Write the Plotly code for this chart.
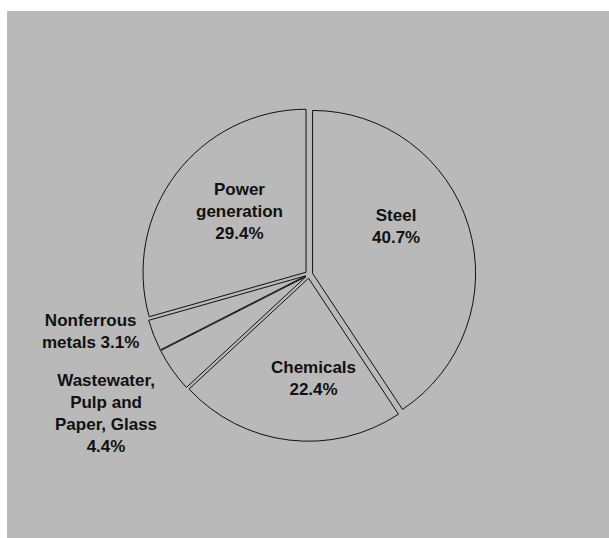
import plotly.graph_objects as go

# Data
categories = ["Steel", "Chemicals", "Wastewater, Pulp and Paper, Glass", "Nonferrous metals", "Power generation"]
shares = [40.7, 22.4, 4.4, 3.1, 29.4]
label_lines = [
    ["Steel"],
    ["Chemicals"],
    ["Wastewater,", "Pulp and", "Paper, Glass"],
    ["Nonferrous", "metals"],
    ["Power", "generation"],
]
# whether percentage goes on its own line
pct_newline = [True, True, True, False, True]

W, H = 609, 538
GRAY = "#B9B9B9"

# label centres in pixels (layout only)
label_pos = [(396, 226), (313, 378), (106, 413), (90, 331), (239, 211)]

fig = go.Figure()
fig.add_trace(go.Pie(
    labels=categories,
    values=shares,
    sort=False,
    direction="clockwise",
    rotation=0,
    pull=[0.023] * len(shares),
    textinfo="none",
    hoverinfo="label+percent",
    marker=dict(colors=[GRAY] * len(shares), line=dict(color="#111111", width=1)),
    domain=dict(x=[0.2336, 0.7812], y=[0.1798, 0.7997]),
    showlegend=False,
))

annotations = []
for lines, val, nl, (px, py) in zip(label_lines, shares, pct_newline, label_pos):
    pct = f"{val:.1f}%"
    if nl:
        txt = "<br>".join(lines + [pct])
    else:
        txt = "<br>".join(lines[:-1] + [lines[-1] + " " + pct])
    annotations.append(dict(
        x=px / W, y=1 - py / H, xref="paper", yref="paper",
        text="<b>" + txt + "</b>", showarrow=False,
        xanchor="center", yanchor="middle", align="center",
        font=dict(family="Liberation Sans, Arial, sans-serif", size=17, color="#111111"),
    ))

fig.update_layout(
    width=W, height=H,
    margin=dict(l=0, r=0, t=0, b=0),
    paper_bgcolor="white",
    annotations=annotations,
    shapes=[dict(type="rect", xref="paper", yref="paper",
                 x0=7 / W, x1=1.01, y0=-0.01, y1=1 - 11 / H,
                 fillcolor=GRAY, line=dict(width=0), layer="below")],
)

fig.write_html("out.html")
